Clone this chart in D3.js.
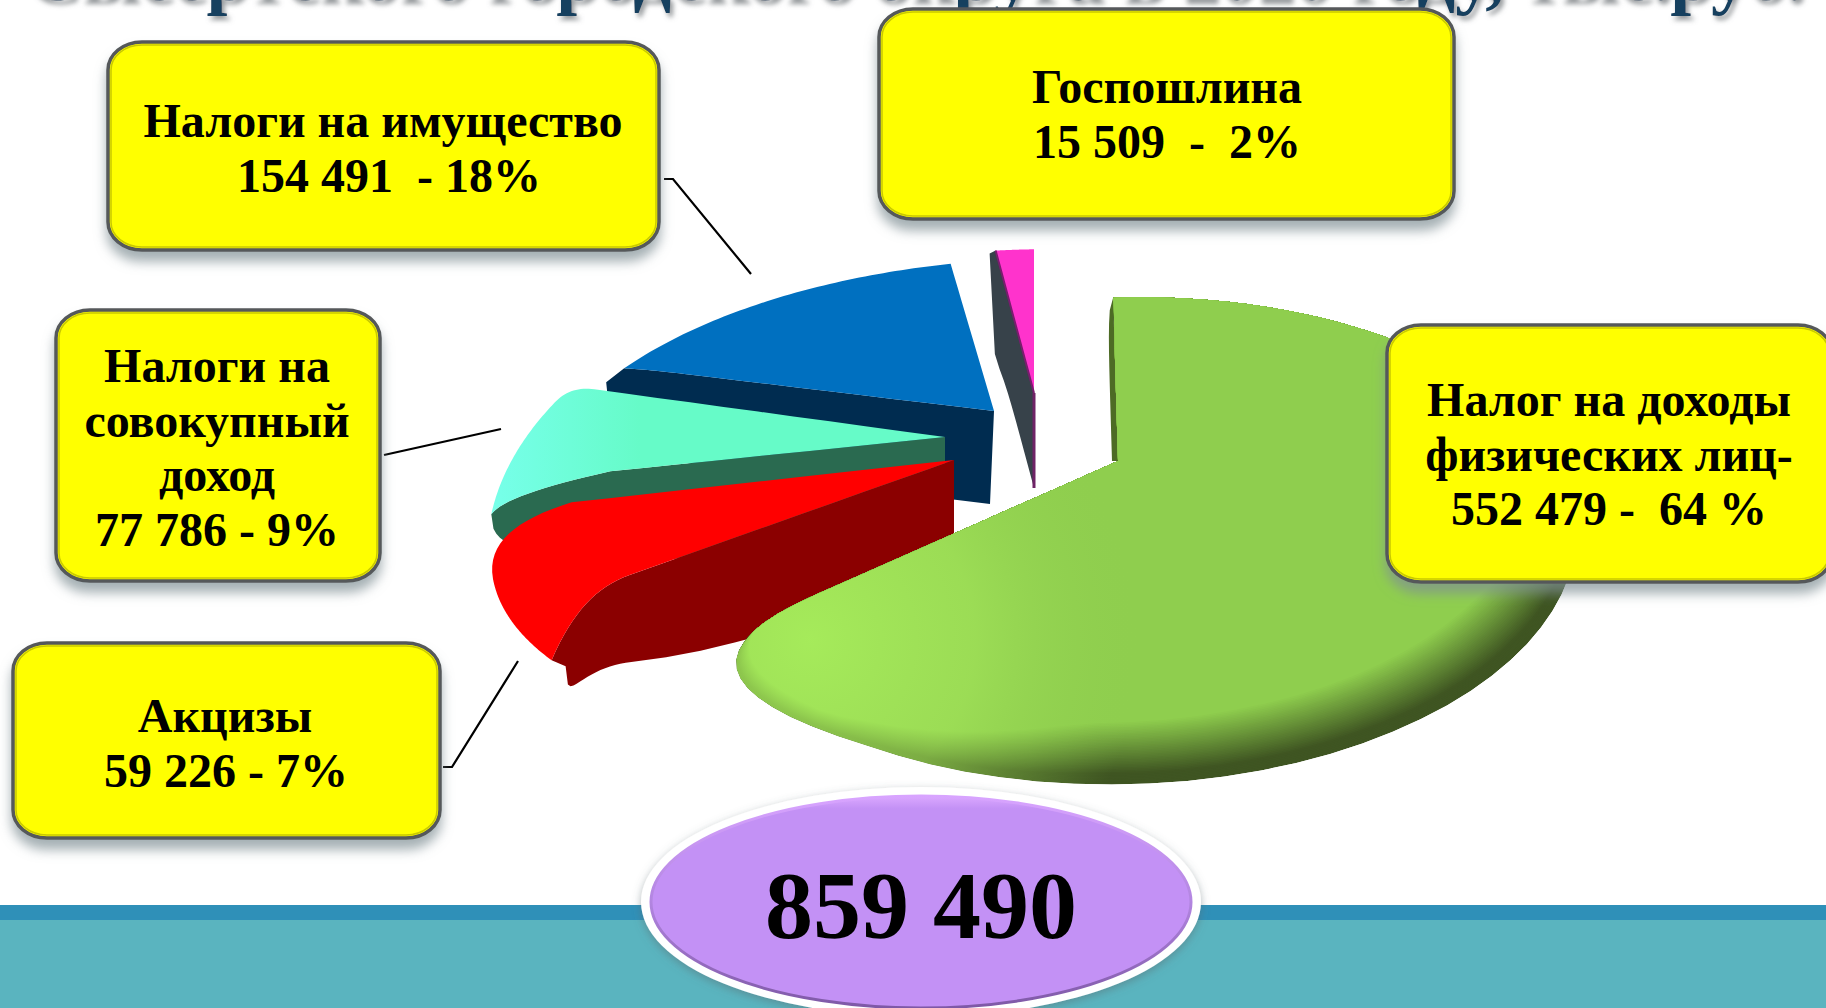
<!DOCTYPE html>
<html>
<head>
<meta charset="utf-8">
<script src="https://cdn.jsdelivr.net/npm/d3@7/dist/d3.min.js"></script>
<style>
html, body { margin: 0; padding: 0; background: #fff; overflow: hidden; }
text { font-family: "Liberation Serif", serif; font-weight: bold; white-space: pre; }
</style>
</head>
<body>
<div id="chart"></div>
<script>
// data, clockwise from the top of the pie
var sliceNames = ["Налог на доходы физических лиц", "Акцизы", "Налоги на совокупный доход", "Налоги на имущество", "Госпошлина"];
var sliceValues = [552479, 59226, 77786, 154491, 15509];
var titleText = "Сысертского городского округа в 2020 году, тыс.руб.";
var totalText = "859 490";
var labelLines = [
    ["Налог на доходы", "физических лиц-", "552 479 -  64 %"],
    ["Акцизы", "59 226 - 7%"],
    ["Налоги на", "совокупный", "доход", "77 786 - 9%"],
    ["Налоги на имущество", "154 491  - 18%"],
    ["Госпошлина", "15 509  -  2%"]
];

var w = 1826, h = 1008;

// styles per slice
var sliceFill = ["#8fce4e", "#ff0000", "#66fbc8", "#0070c0", "#ff33cc"];
var wallFill = ["#4d6b25", "#8b0000", "#2a6a50", "#002c50", "#37424a"];
var center = [1033, 431];
// explosion of each slice from the centre, px
var explode = [[85, 30], [-79, 29], [-88, 6], [-39, -20], [1, -38]];
// perspective of each slice
var views = [
    { rx: 426, ry: 217, kx: 0.01, ky: 0.329, sh: -0.03, shx: 0.03 },
    { rx: 460, ry: 190, kx: 0.05, ky: 0.329, sh: -0.076, shx: 0 },
    { rx: 455, ry: 254, kx: 0.05, ky: 0.329, sh: -0.054, shx: 0 },
    { rx: 458, ry: 200, kx: 0.05, ky: 0.329, sh: -0.05, shx: 0.03 },
    { rx: 452, ry: 191, kx: 0.05, ky: 0.329, sh: 0, shx: 0 }
];
// rounded corners: r = where the straight edge stops, da = bend of the edge,
// arc = how far the curve runs along the rim, cr/ca = control point
var startCorner = [
    null,
    { r: 0.76, da: 4.6, arc: -7, cr: 0.86, ca: 4.6 },
    { r: 0.75, da: 8.8, arc: 2, cr: 0.98, ca: 6 },
    { r: 0.82, da: 2.5, arc: 2, cr: 0.95, ca: 2.5 },
    null
];
var endCorner = [
    { r: 0.78, da: 0, arc: 26, cr: 1.14, ca: 0 },
    { r: 0.85, da: -9, arc: 10, cr: 1.03, ca: -4 },
    { r: 0.93, da: 0, arc: 4, cr: 1, ca: 0 },
    null,
    null
];
// side wall under the start edge
var wallDepth = [[-6, 0], [0, 112], [0, 100], [-4, 93], [0, 95]];
var wallTip = [[0, 0], [14, 6], [0, 0], [-18, 14], [-6, 3]];
var wallPower = [6, 3, 4, 8, 30];

// boxes: x, y, width, height, centre of text, first baseline, shift of the number line
var boxes = [
    [1387, 325, 445, 257, 1609, 416, 0],
    [13, 643, 427, 195, 225, 732, 1],
    [56, 310, 324, 271, 217, 382, 0],
    [108, 42, 551, 208, 383, 137, 6],
    [879, 9, 575, 210, 1167, 103, 0]
];

var leaders = [
    [[664, 179], [673, 179], [751, 274]],
    [[384, 455], [501, 429]],
    [[443, 767], [452, 767], [518, 661]]
];

var svg = d3.select("#chart")
    .append("svg")
    .attr("width", w)
    .attr("height", h)
    .style("display", "block");

var defs = svg.append("defs");

var titleShadow = defs.append("filter").attr("id", "titleShadow")
    .attr("x", "-5%").attr("y", "-50%").attr("width", "110%").attr("height", "200%");
titleShadow.append("feDropShadow").attr("dx", 3).attr("dy", 4).attr("stdDeviation", 2.5)
    .attr("flood-color", "#8a8f92").attr("flood-opacity", 0.9);

var boxShadow = defs.append("filter").attr("id", "boxShadow")
    .attr("x", "-10%").attr("y", "-10%").attr("width", "120%").attr("height", "125%");
boxShadow.append("feDropShadow").attr("dx", 0).attr("dy", 10).attr("stdDeviation", 6)
    .attr("flood-color", "#7f8f94").attr("flood-opacity", 0.7);

var ovalShadow = defs.append("filter").attr("id", "ovalShadow")
    .attr("x", "-10%").attr("y", "-10%").attr("width", "120%").attr("height", "120%");
ovalShadow.append("feDropShadow").attr("dx", 0).attr("dy", 3).attr("stdDeviation", 4)
    .attr("flood-color", "#5a6a70").attr("flood-opacity", 0.5);

var ovalFill = defs.append("linearGradient").attr("id", "ovalFill")
    .attr("x1", 0).attr("y1", 0).attr("x2", 0).attr("y2", 1);
ovalFill.append("stop").attr("offset", 0).attr("stop-color", "#dba8ff");
ovalFill.append("stop").attr("offset", 0.06).attr("stop-color", "#c391f5");
ovalFill.append("stop").attr("offset", 1).attr("stop-color", "#c391f5");

var ovalEdge = defs.append("linearGradient").attr("id", "ovalEdge")
    .attr("x1", 0).attr("y1", 0).attr("x2", 0).attr("y2", 1);
ovalEdge.append("stop").attr("offset", 0).attr("stop-color", "#d8a4ff");
ovalEdge.append("stop").attr("offset", 0.5).attr("stop-color", "#b285e0");
ovalEdge.append("stop").attr("offset", 1).attr("stop-color", "#7e58a6");

var greenLight = defs.append("radialGradient").attr("id", "greenLight")
    .attr("gradientUnits", "userSpaceOnUse")
    .attr("cx", 810).attr("cy", 640).attr("r", 330);
greenLight.append("stop").attr("offset", 0).attr("stop-color", "#a8ee5c").attr("stop-opacity", 0.9);
greenLight.append("stop").attr("offset", 0.5).attr("stop-color", "#a4e65a").attr("stop-opacity", 0.6);
greenLight.append("stop").attr("offset", 1).attr("stop-color", "#8fce4e").attr("stop-opacity", 0);

var cyanLight = defs.append("linearGradient").attr("id", "cyanLight")
    .attr("gradientUnits", "userSpaceOnUse")
    .attr("x1", 500).attr("y1", 0).attr("x2", 640).attr("y2", 0);
cyanLight.append("stop").attr("offset", 0).attr("stop-color", "#76ffe8");
cyanLight.append("stop").attr("offset", 1).attr("stop-color", "#66fbc8");

// title, only its lower part is on the slide
svg.append("text")
    .attr("x", 915)
    .attr("y", 0)
    .attr("text-anchor", "middle")
    .attr("filter", "url(#titleShadow)")
    .style("font-size", "75px")
    .attr("fill", "#17405f")
    .text(titleText);

// footer band
svg.append("rect").attr("x", 0).attr("y", 905).attr("width", w).attr("height", 15).attr("fill", "#2f90b8");
svg.append("rect").attr("x", 0).attr("y", 920).attr("width", w).attr("height", 88).attr("fill", "#5ab4bf");

var line = d3.line();

svg.selectAll(".leader")
    .data(leaders)
    .enter()
    .append("path")
    .attr("class", "leader")
    .attr("d", line)
    .attr("fill", "none")
    .attr("stroke", "#000")
    .attr("stroke-width", 2.2);

// pie
var pie = d3.pie().sort(null).startAngle(0).endAngle(2 * Math.PI);
var arcs = pie(sliceValues);
var rad = Math.PI / 180;

function planePoint(r, a) {
    return [r * Math.sin(a), -r * Math.cos(a)];
}

function bezier(p0, c, p1) {
    return d3.range(1, 17).map(function(k) {
        var t = k / 16, u = 1 - t;
        return [u * u * p0[0] + 2 * u * t * c[0] + t * t * p1[0],
                u * u * p0[1] + 2 * u * t * c[1] + t * t * p1[1]];
    });
}

// from the apex out to the rim along one radial edge
function edgePoints(a, sign, c) {
    if (!c) {
        return d3.range(0, 11).map(function(k) { return planePoint(k / 10, a); });
    }
    var bent = a + sign * c.da * rad;
    var straight = d3.range(0, 11).map(function(k) { return planePoint(k / 10 * c.r, bent); });
    return straight.concat(bezier(planePoint(c.r, bent),
        planePoint(c.cr, a + sign * c.ca * rad),
        planePoint(1, a + sign * c.arc * rad)));
}

function project(i, p) {
    var v = views[i];
    var ww = 1 - v.kx * p[0] - v.ky * p[1];
    var X = v.rx * p[0] / ww, Y = v.ry * p[1] / ww;
    var ax = center[0] + explode[i][0], ay = center[1] + explode[i][1];
    return [ax + X + v.shx * Y, ay + Y + v.sh * X];
}

function facePoints(i) {
    var d = arcs[i];
    var s = edgePoints(d.startAngle, 1, startCorner[i]);
    var e = edgePoints(d.endAngle, -1, endCorner[i]);
    var a0 = d.startAngle + (startCorner[i] ? startCorner[i].arc * rad : 0);
    var a1 = d.endAngle - (endCorner[i] ? endCorner[i].arc * rad : 0);
    var rim = d3.range(1, 60).map(function(k) { return planePoint(1, a0 + (a1 - a0) * k / 60); });
    return s.concat(rim, e.reverse()).map(function(p) { return project(i, p); });
}

function wallPoints(i) {
    var top = edgePoints(arcs[i].startAngle, 1, startCorner[i]).map(function(p) { return project(i, p); });
    var lens = [0];
    top.forEach(function(p, k) {
        if (k > 0) lens.push(lens[k - 1] + Math.hypot(p[0] - top[k - 1][0], p[1] - top[k - 1][1]));
    });
    var total = lens[lens.length - 1];
    var low = top.map(function(p, k) {
        var t = lens[k] / total;
        var f = Math.sqrt(Math.max(0, 1 - Math.pow(t, wallPower[i])));
        var g = Math.pow(t, 6);
        return [p[0] + wallDepth[i][0] * f + wallTip[i][0] * g, p[1] + wallDepth[i][1] * f + wallTip[i][1] * g];
    });
    return top.concat(low.reverse());
}

var pieGroup = svg.append("g").attr("id", "pieGroup");

// back to front
[3, 4, 2, 1].forEach(function(i) {
    var g = pieGroup.append("g").attr("class", "arc");
    g.append("path").attr("d", line(wallPoints(i)) + "Z").attr("fill", wallFill[i]);
    g.append("path")
        .attr("d", line(facePoints(i)) + "Z")
        .attr("fill", i == 2 ? "url(#cyanLight)" : sliceFill[i]);
});

// thin dark magenta edges of the small slice
var pinkEdge = edgePoints(arcs[4].startAngle, 1, null).map(function(p) { return project(4, p); });
pieGroup.append("path").attr("d", line(pinkEdge)).attr("fill", "none").attr("stroke", "#7a1c6e").attr("stroke-width", 2);
pieGroup.append("path")
    .attr("d", line([pinkEdge[0], [pinkEdge[0][0], pinkEdge[0][1] + wallDepth[4][1]]]))
    .attr("fill", "none").attr("stroke", "#6f2366").attr("stroke-width", 3);

// large slice: bevel made of layers pulled in from the lower rim
var greenFace = facePoints(0);
var greenLine = line(greenFace) + "Z";
defs.append("clipPath").attr("id", "greenClip").append("path").attr("d", greenLine);
pieGroup.append("path").attr("d", line(wallPoints(0)) + "Z").attr("fill", wallFill[0]);
var greenGroup = pieGroup.append("g").attr("clip-path", "url(#greenClip)");
var layerColor = d3.interpolateRgb("#3f5522", "#8fce4e");
var layers = 40;

function pullIn(p, t) {
    var xf = Math.max(0.3, Math.min(1, (p[0] - 700) / 400));
    var yf = Math.max(0, Math.min(1, (p[1] - 350) / 300));
    return [p[0] - (p[0] - 900) * 0.08 * t * yf, p[1] - (p[1] - 200) * 0.105 * t * xf];
}

d3.range(0, layers + 1).forEach(function(k) {
    var t = k / layers;
    greenGroup.append("path")
        .attr("d", line(greenFace.map(function(p) { return pullIn(p, t); })) + "Z")
        .attr("fill", layerColor(Math.max(0, t * 1.2 - 0.2)));
});
greenGroup.append("path").attr("d", greenLine).attr("fill", "url(#greenLight)");

// label boxes
var boxGroups = svg.selectAll(".box")
    .data(boxes)
    .enter()
    .append("g")
    .attr("class", "box");

boxGroups.append("rect")
    .attr("x", function(d) { return d[0]; })
    .attr("y", function(d) { return d[1]; })
    .attr("width", function(d) { return d[2]; })
    .attr("height", function(d) { return d[3]; })
    .attr("rx", 34)
    .attr("ry", 28)
    .attr("fill", "#ffff00")
    .attr("stroke", "#55585a")
    .attr("stroke-width", 3.5)
    .attr("filter", "url(#boxShadow)");

boxGroups.append("rect")
    .attr("x", function(d) { return d[0] + 3; })
    .attr("y", function(d) { return d[1] + 3; })
    .attr("width", function(d) { return d[2] - 6; })
    .attr("height", function(d) { return d[3] - 6; })
    .attr("rx", 31)
    .attr("ry", 25)
    .attr("fill", "none")
    .attr("stroke", "#c9c900")
    .attr("stroke-width", 1.5);

boxGroups.each(function(d, i) {
    var n = labelLines[i].length;
    d3.select(this).selectAll("text")
        .data(labelLines[i])
        .enter()
        .append("text")
        .attr("x", function(t, k) { return d[4] + (k == n - 1 ? d[6] : 0); })
        .attr("y", function(t, k) { return d[5] + k * 54.5; })
        .attr("text-anchor", "middle")
        .style("font-size", "48px")
        .attr("fill", "#000")
        .text(function(t) { return t; });
});

// total
svg.append("ellipse")
    .attr("cx", 921).attr("cy", 902).attr("rx", 280).attr("ry", 115)
    .attr("fill", "#fff")
    .attr("filter", "url(#ovalShadow)");
svg.append("ellipse")
    .attr("cx", 921).attr("cy", 902).attr("rx", 270).attr("ry", 106)
    .attr("fill", "url(#ovalFill)")
    .attr("stroke", "url(#ovalEdge)")
    .attr("stroke-width", 3);
svg.append("text")
    .attr("x", 921)
    .attr("y", 938)
    .attr("text-anchor", "middle")
    .style("font-size", "96px")
    .attr("fill", "#000")
    .text(totalText);
</script>
</body>
</html>
